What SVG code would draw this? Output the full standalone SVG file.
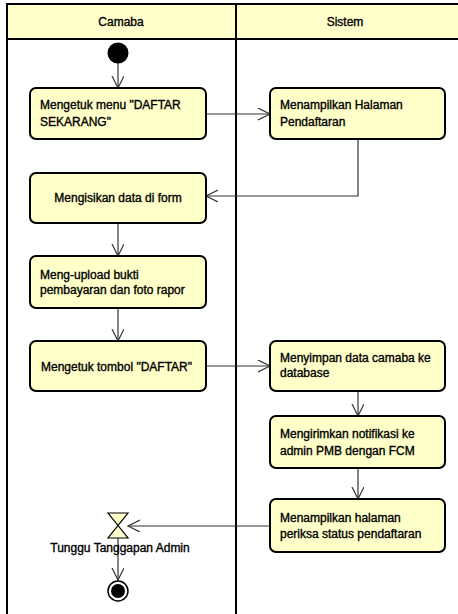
<svg xmlns="http://www.w3.org/2000/svg" width="458" height="614" viewBox="0 0 458 614">
<defs>
<style>
.lane{fill:none;stroke:#000;stroke-width:2}
.hdr{fill:#FFFFCC;stroke:#000;stroke-width:2}
.act{fill:#FFFFCA;stroke:#000;stroke-width:2}
.t{font-family:"Liberation Sans",Arial,sans-serif;font-size:12px;fill:#000;stroke:#000;stroke-width:0.35}
.c{fill:none;stroke:#333;stroke-width:1.2}
</style>
<marker id="ah" markerWidth="14" markerHeight="14" refX="12" refY="6" orient="auto" markerUnits="userSpaceOnUse">
<path d="M0,0 L12,6 L0,12" fill="none" stroke="#333" stroke-width="1.2"/>
</marker>
</defs>
<rect width="458" height="614" fill="#fff"/>
<g id="swimlanes">
<rect x="7" y="4" width="460" height="35" class="hdr"/>
<line x1="7" y1="4" x2="7" y2="614" class="lane"/>
<line x1="236" y1="4" x2="236" y2="614" class="lane"/>
<text x="121" y="26" text-anchor="middle" class="t">Camaba</text>
<text x="345" y="26" text-anchor="middle" class="t">Sistem</text>
</g>
<g id="connectors">
<line x1="118" y1="63" x2="118" y2="88" class="c" marker-end="url(#ah)"/>
<line x1="206" y1="114" x2="270" y2="114" class="c" marker-end="url(#ah)"/>
<polyline points="358,139 358,196 206,196" class="c" marker-end="url(#ah)"/>
<line x1="118" y1="223" x2="118" y2="256" class="c" marker-end="url(#ah)"/>
<line x1="118" y1="308" x2="118" y2="341" class="c" marker-end="url(#ah)"/>
<line x1="206" y1="366" x2="270" y2="366" class="c" marker-end="url(#ah)"/>
<line x1="358" y1="391" x2="358" y2="416" class="c" marker-end="url(#ah)"/>
<line x1="358" y1="468" x2="358" y2="499" class="c" marker-end="url(#ah)"/>
<line x1="270" y1="526" x2="128" y2="526" class="c" marker-end="url(#ah)"/>
<line x1="118" y1="538" x2="118" y2="580" class="c" marker-end="url(#ah)"/>
</g>
<g id="start"><circle cx="118" cy="53" r="10.5" fill="#000"/></g>
<g id="a1">
<rect x="30" y="88" width="176" height="51" rx="6" class="act"/>
<text x="40" y="109" class="t">Mengetuk menu "DAFTAR</text>
<text x="40" y="126" class="t">SEKARANG"</text>
</g>
<g id="a2">
<rect x="270" y="88" width="175" height="51" rx="6" class="act"/>
<text x="280" y="109" class="t">Menampilkan Halaman</text>
<text x="280" y="126" class="t">Pendaftaran</text>
</g>
<g id="a3">
<rect x="30" y="173" width="176" height="50" rx="6" class="act"/>
<text x="118" y="202" text-anchor="middle" class="t">Mengisikan data di form</text>
</g>
<g id="a4">
<rect x="30" y="256" width="176" height="52" rx="6" class="act"/>
<text x="40" y="279" class="t">Meng-upload bukti</text>
<text x="40" y="294" class="t">pembayaran dan foto rapor</text>
</g>
<g id="a5">
<rect x="30" y="341" width="176" height="50" rx="6" class="act"/>
<text x="41" y="371" class="t">Mengetuk tombol "DAFTAR"</text>
</g>
<g id="a6">
<rect x="270" y="341" width="175" height="50" rx="6" class="act"/>
<text x="280" y="362" class="t">Menyimpan data camaba ke</text>
<text x="280" y="377" class="t">database</text>
</g>
<g id="a7">
<rect x="270" y="416" width="175" height="52" rx="6" class="act"/>
<text x="280" y="438" class="t">Mengirimkan notifikasi ke</text>
<text x="280" y="455" class="t">admin PMB dengan FCM</text>
</g>
<g id="a8">
<rect x="270" y="499" width="175" height="53" rx="6" class="act"/>
<text x="280" y="522" class="t">Menampilkan halaman</text>
<text x="280" y="538" class="t">periksa status pendaftaran</text>
</g>
<g id="wait">
<polygon points="108,513 128,513 108,538 128,538" fill="#FFFFCC" stroke="#000" stroke-width="1.2"/>
<text x="120" y="552" text-anchor="middle" class="t">Tunggu Tanggapan Admin</text>
</g>
<g id="end">
<circle cx="118" cy="591" r="10" fill="#fff" stroke="#000" stroke-width="1.5"/>
<circle cx="118" cy="591" r="7" fill="#000"/>
</g>
</svg>
